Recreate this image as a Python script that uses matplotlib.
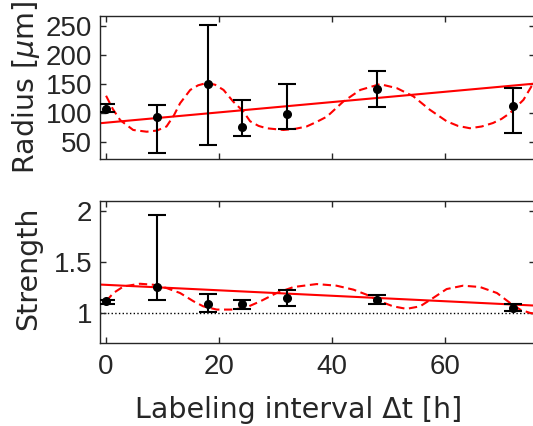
import matplotlib
matplotlib.use('Agg')
from matplotlib import pyplot as plt

plt.rcParams['font.family'] = ['Liberation Sans', 'DejaVu Sans']
plt.rcParams['mathtext.fontset'] = 'dejavusans'

# measurements
t = [0, 9, 18, 24, 32, 48, 72]
radius = [105.5, 91.5, 150, 75, 98, 141, 111]
radius_lo = [101, 31, 44, 60, 72, 109, 64]
radius_hi = [114.5, 112.5, 251, 122, 150, 172, 143]
strength = [1.113, 1.254, 1.09, 1.09, 1.149, 1.13, 1.049]
strength_lo = [1.088, 1.13, 1.01, 1.04, 1.068, 1.084, 1.02]
strength_hi = [1.13, 1.96, 1.186, 1.123, 1.22, 1.176, 1.09]

# linear fits (end points)
fit_t = [-1, 76]
radius_lin = [81.7, 150]
strength_lin = [1.278, 1.071]

# oscillating fits
osc_t = [0, 1.2, 2.5, 4.8, 7.2, 9.0, 10.7, 12.0, 13.1, 14.9, 16.3, 17.8, 19.3,
         20.8, 22.5, 24.3, 25.5, 27.0, 28.4, 31.4, 33.5, 35.5, 37.3, 39.1, 42.0,
         45.0, 48.5, 51.5, 54.4, 57.3, 60.3, 62.3, 64.4, 66.5, 68.5, 70.0, 71.5,
         73.9, 75.3, 76.0]
radius_osc = [129, 106, 87, 70, 67, 69, 76, 95, 116, 139, 147, 151, 148,
              139, 119, 102, 85, 77, 73, 70, 72, 76, 84, 93, 119,
              139, 149, 142, 128, 105, 85, 77, 73, 76, 82, 89, 99,
              122, 145, 152]

osc2_t = [0, 1.3, 3.1, 6.0, 8.4, 10.7, 13.1, 15.5, 17.2, 19.6, 22.5, 24.9, 27.3,
          30.2, 33.2, 37.3, 40.8, 43.8, 46.1, 48.5, 50.8, 53.2, 55.6, 57.9, 60.3,
          63.2, 66.2, 69.2, 71.5, 73.3, 75.0, 76.0]
strength_osc = [1.113, 1.195, 1.26, 1.286, 1.276, 1.244, 1.195, 1.113, 1.064,
                1.032, 1.032, 1.055, 1.113, 1.195, 1.254, 1.283, 1.267, 1.228,
                1.179, 1.113, 1.064, 1.039, 1.064, 1.146, 1.234, 1.267, 1.254,
                1.195, 1.098, 1.032, 1.0, 0.99]

grey = '#262626'
label_font = dict(fontsize=20.5, color=grey, family='DejaVu Sans')

fig = plt.figure(figsize=(5.33, 4.26), dpi=100)
ax1 = fig.add_axes([0.1884, 0.6268, 0.816, 0.3364])
ax2 = fig.add_axes([0.1884, 0.1941, 0.816, 0.334])


def draw(ax, y, lo, hi, lin, ot, osc):
    err = [[v - l for v, l in zip(y, lo)], [h - v for v, h in zip(y, hi)]]
    ax.plot(fit_t, lin, color='r', lw=1.5, zorder=2)
    ax.plot(ot, osc, color='r', lw=1.5, ls=(0, (4, 2.2)), zorder=2)
    ax.errorbar(t, y, yerr=err, fmt='o', color='k', ms=5.5, lw=1.5,
                capsize=6.5, capthick=1.5, zorder=3)
    ax.set_xlim(-1, 76)
    ax.set_xticks([0, 20, 40, 60])
    for s in ax.spines.values():
        s.set_color(grey)
        s.set_linewidth(1.0)
    ax.tick_params(direction='in', top=True, right=True, length=4,
                   width=1.0, color=grey, labelcolor=grey, labelsize=20)
    ax.tick_params(axis='y', pad=6)
    ax.tick_params(axis='x', pad=8)


draw(ax1, radius, radius_lo, radius_hi, radius_lin, osc_t, radius_osc)
ax1.set_ylim(20, 267)
ax1.set_yticks([50, 100, 150, 200, 250])
ax1.set_xticklabels([])
ax1.set_ylabel(r'Radius [$\mu$m]', **label_font)
ax1.yaxis.set_label_coords(-0.135, 0.5)

draw(ax2, strength, strength_lo, strength_hi, strength_lin, osc2_t, strength_osc)
ax2.axhline(1, color='k', lw=1.0, ls=':', zorder=1)
ax2.set_ylim(0.7, 2.1)
ax2.set_yticks([1, 1.5, 2])
ax2.set_yticklabels(['1', '1.5', '2'])
ax2.set_ylabel('Strength', **label_font)
ax2.yaxis.set_label_coords(-0.135, 0.53)
ax2.set_xlabel('Labeling interval \u0394t [h]', **label_font)
ax2.xaxis.set_label_coords(0.455, -0.37)

fig.savefig('out.png', dpi=100)
